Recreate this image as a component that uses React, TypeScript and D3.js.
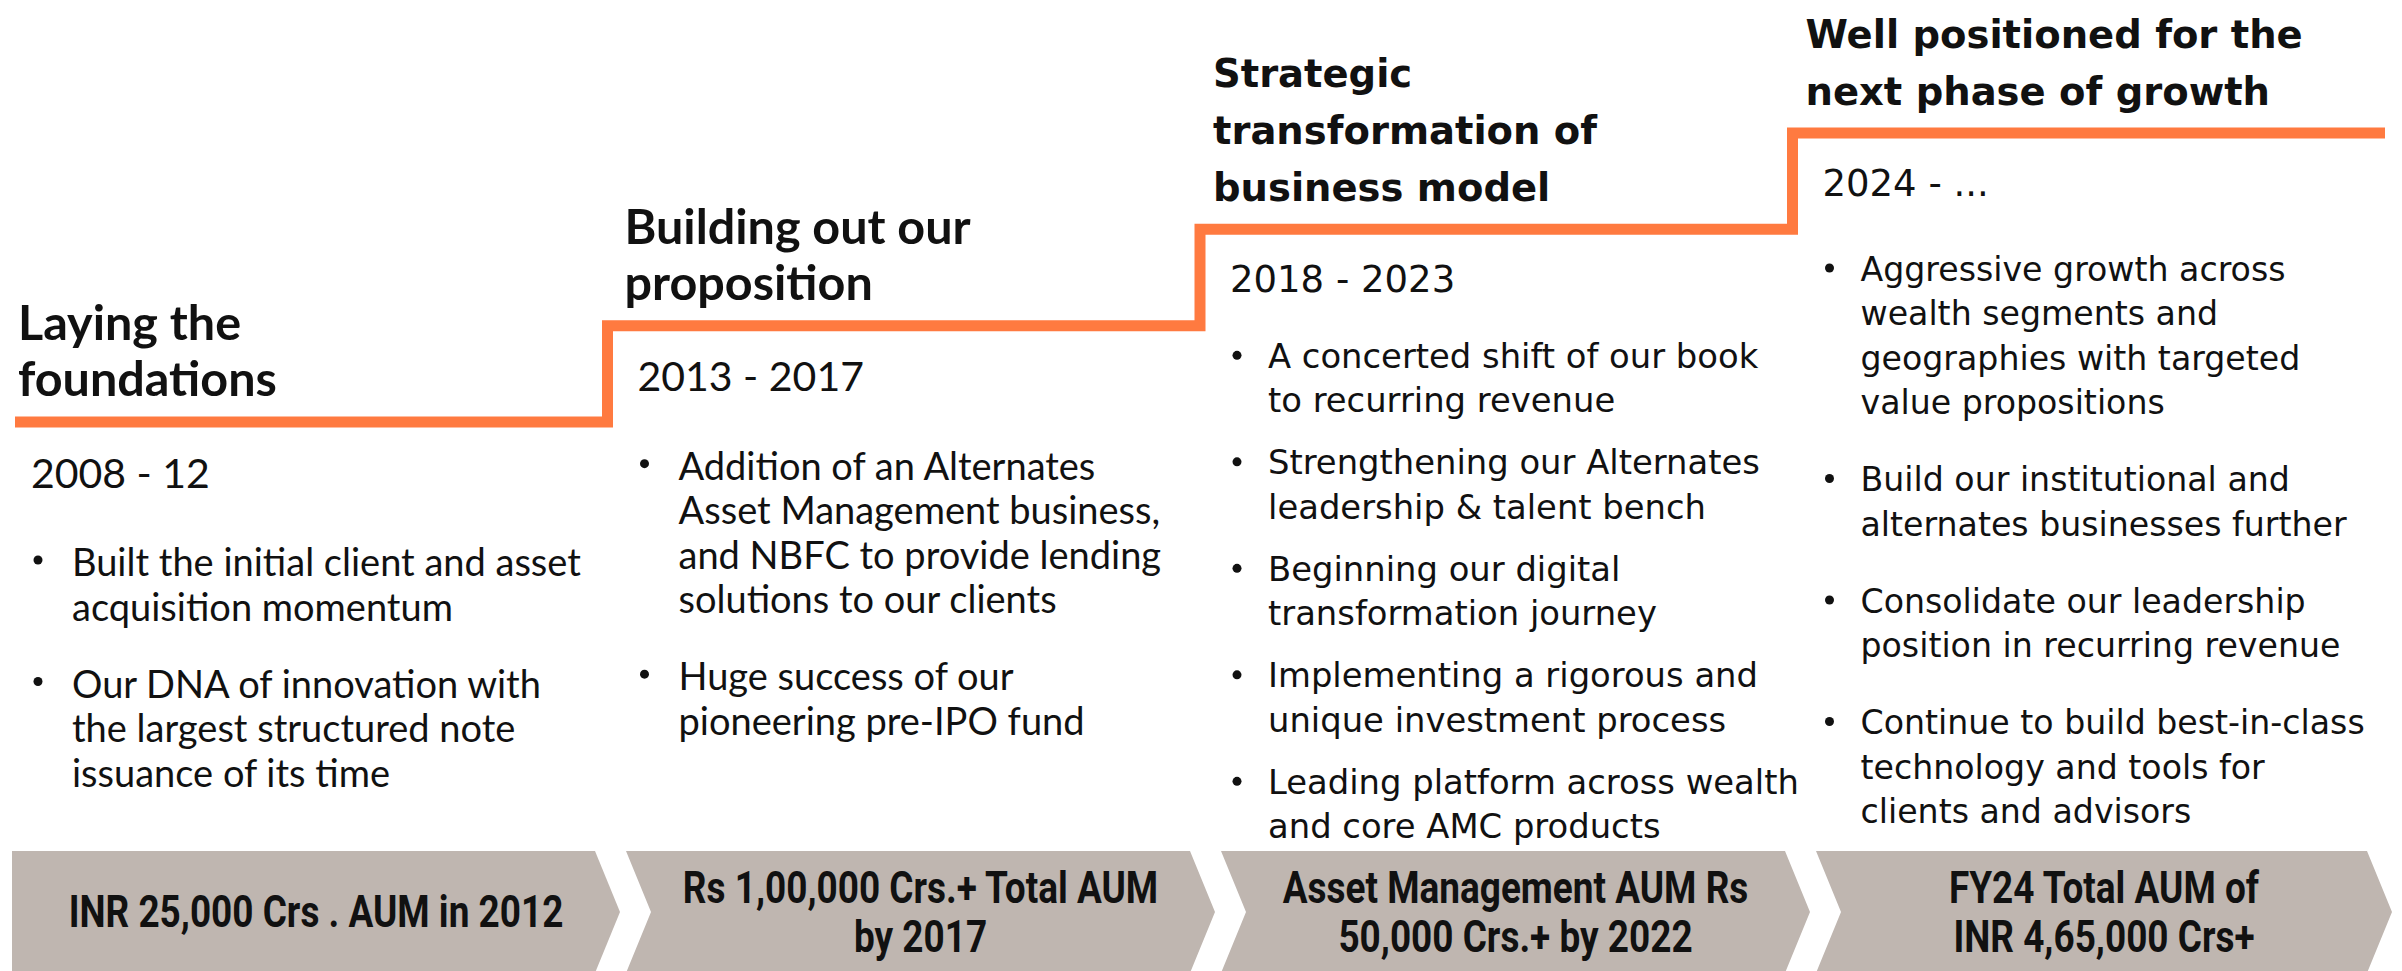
import * as d3 from "d3";

// phase content, left to right
const titles = [
  ["Laying the", "foundations"],
  ["Building out our", "proposition"],
  ["Strategic", "transformation of", "business model"],
  ["Well positioned for the", "next phase of growth"],
];
const periods = ["2008 - 12", "2013 - 2017", "2018 - 2023", "2024 - ..."];
const levels = [0, 1, 2, 3];

const bullets = [
  [
    ["Built the initial client and asset", "acquisition momentum"],
    ["Our DNA of innovation with", "the largest structured note", "issuance of its time"],
  ],
  [
    ["Addition of an Alternates", "Asset Management business,", "and NBFC to provide lending", "solutions to our clients"],
    ["Huge success of our", "pioneering pre-IPO fund"],
  ],
  [
    ["A concerted shift of our book", "to recurring revenue"],
    ["Strengthening our Alternates", "leadership & talent bench"],
    ["Beginning our digital", "transformation journey"],
    ["Implementing a rigorous and", "unique investment process"],
    ["Leading platform across wealth", "and core AMC products"],
  ],
  [
    ["Aggressive growth across", "wealth segments and", "geographies with targeted", "value propositions"],
    ["Build our institutional and", "alternates businesses further"],
    ["Consolidate our leadership", "position in recurring revenue"],
    ["Continue to build best-in-class", "technology and tools for", "clients and advisors"],
  ],
];

const milestones = [
  ["INR 25,000 Crs . AUM in 2012"],
  ["Rs 1,00,000 Crs.+ Total AUM", "by 2017"],
  ["Asset Management AUM Rs", "50,000 Crs.+ by 2022"],
  ["FY24 Total AUM of", "INR 4,65,000 Crs+"],
];

const W = 2402;
const H = 971;
const ORANGE = "#ff7a40";
const GREY = "#bfb6b0";
const INK = "#111111";

export default function App() {
  const x = d3.scaleLinear().domain([0, levels.length]).range([15, 2385]);
  const y = d3.scaleLinear().domain([0, levels.length - 1]).range([422, 133]);

  const stepPts: [number, number][] = levels.map((l, i) => [i, l] as [number, number]);
  stepPts.push([levels.length, levels[levels.length - 1]]);
  const stair = d3
    .line<[number, number]>()
    .x((d) => x(d[0]))
    .y((d) => y(d[1]))
    .curve(d3.curveStepAfter);

  // chevron band boundaries
  const cx = d3.scaleLinear().domain([0, milestones.length]).range([28, 2408]);
  const chevTop = 851;
  const chevH = 122;
  const depth = 25;
  const chevLeft = (i: number) => (i === 0 ? 12 : cx(i) + 3);
  const chevTip = (i: number) => Math.min(cx(i + 1) - 3, 2392);

  const chevron = (i: number) => {
    const left = chevLeft(i);
    const tip = chevTip(i);
    const body = tip - depth;
    const mid = chevTop + chevH / 2;
    const bot = chevTop + chevH;
    const notch = i === 0 ? left : left + depth;
    return `M${left},${chevTop}L${body},${chevTop}L${tip},${mid}L${body},${bot}L${left},${bot}L${notch},${mid}Z`;
  };

  const fontA = "Lato, 'Noto Sans', sans-serif";
  const fontB = "'DejaVu Sans', 'Open Sans', sans-serif";

  return (
    <svg
      width={W}
      height={H}
      viewBox={`0 0 ${W} ${H}`}
      style={{ position: "absolute", left: 0, top: 0, background: "#fff" }}
    >
      <path d={stair(stepPts) || ""} fill="none" stroke={ORANGE} strokeWidth={11} strokeLinejoin="miter" />

      {levels.map((lvl, i) => {
        const lineY = y(lvl);
        const cX = x(i) + (i === 0 ? 0 : 14);
        const wide = i >= 2;
        const font = wide ? fontB : fontA;
        const tl = titles[i];
        const tStep = wide ? 57 : 56;
        let by = lineY + (i === 2 ? 127 : wide ? 136 : 139);
        const gap = i === 2 ? 62 : 77;
        const lh = 44.5;
        const items: JSX.Element[] = [];
        bullets[i].forEach((b, j) => {
          const y0 = by;
          items.push(
            <g key={j}>
              <circle cx={cX + 23} cy={y0 - 1} r={4.5} fill={INK} />
              {b.map((ln, k) => (
                <text
                  key={k}
                  x={cX + (wide ? 54 : 57)}
                  y={y0 + k * lh}
                  dominantBaseline="central"
                  fontFamily={font}
                  fontSize={wide ? (i === 2 ? 33.8 : 33.2) : 38}
                  fill={INK}
                >
                  {ln}
                </text>
              ))}
            </g>
          );
          by = y0 + (b.length - 1) * lh + gap;
        });
        return (
          <g key={i}>
            {tl.map((t, k) => (
              <text
                key={k}
                x={cX + (wide ? -1 : 3)}
                y={lineY - (wide ? 42 : 45) - (tl.length - 1 - k) * tStep}
                dominantBaseline="central"
                fontFamily={font}
                fontWeight={700}
                fontSize={wide ? 38.5 : 48.5}
                fill={INK}
              >
                {t}
              </text>
            ))}
            <text
              x={cX + 16}
              y={lineY + 50}
              dominantBaseline="central"
              fontFamily={font}
              fontSize={wide ? 37 : 41}
              fill={INK}
            >
              {periods[i]}
            </text>
            {items}
          </g>
        );
      })}

      {milestones.map((m, i) => {
        const mx = (chevLeft(i) + chevTip(i)) / 2;
        const mid = chevTop + chevH / 2;
        return (
          <g key={i}>
            <path d={chevron(i)} fill={GREY} />
            {m.map((ln, k) => (
              <text
                key={k}
                transform={`translate(${mx},${mid + (k - (m.length - 1) / 2) * 49}) scale(0.84,1)`}
                textAnchor="middle"
                dominantBaseline="central"
                fontFamily="Roboto, 'Liberation Sans', sans-serif"
                fontWeight={700}
                fontSize={44}
                fill={INK}
              >
                {ln}
              </text>
            ))}
          </g>
        );
      })}
    </svg>
  );
}
